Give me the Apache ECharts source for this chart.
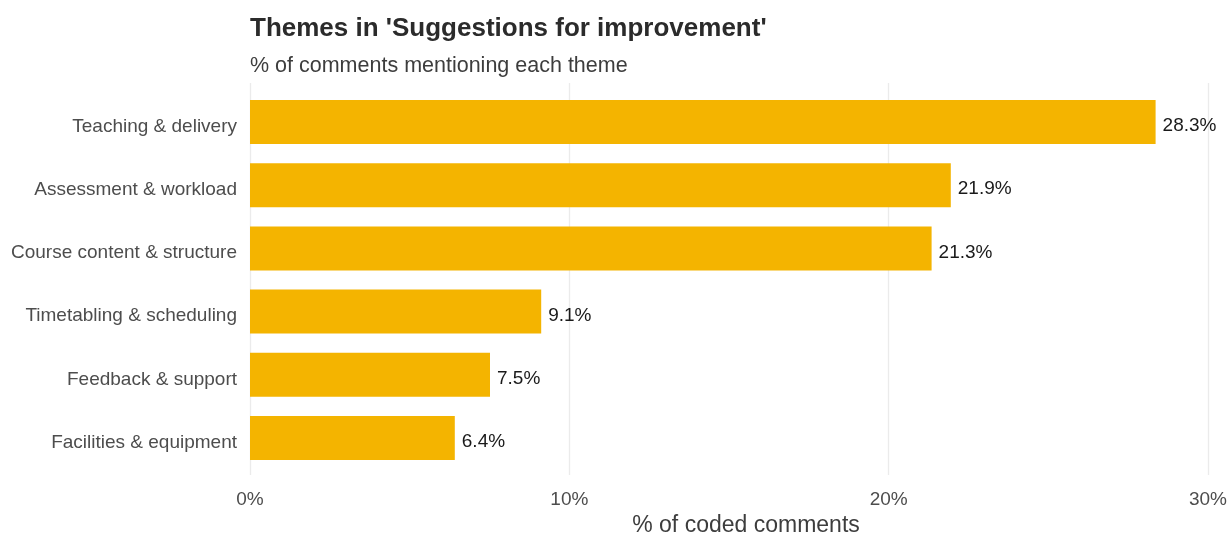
<!DOCTYPE html>
<html>
<head>
<meta charset="utf-8">
<script src="https://cdn.jsdelivr.net/npm/echarts@6/dist/echarts.min.js"></script>
<style>
  html, body { margin: 0; padding: 0; background: #ffffff; }
  #chart { width: 1230px; height: 533px; }
</style>
</head>
<body>
<div id="chart"></div>
<script>
// Themes raised in the "Suggestions for improvement" free-text comments
const themes = [
  'Teaching & delivery',
  'Assessment & workload',
  'Course content & structure',
  'Timetabling & scheduling',
  'Feedback & support',
  'Facilities & equipment'
];
// Share of coded comments mentioning each theme (%)
const shares = [28.3, 21.9, 21.3, 9.1, 7.5, 6.4];
// Tick values on the percentage axis
const xTicks = [0, 10, 20, 30];

const FONT = '"Liberation Sans", Arial, sans-serif';
const chart = echarts.init(document.getElementById('chart'), null, { renderer: 'canvas' });

const xMin = xTicks[0];
const xMax = xTicks[xTicks.length - 1];
const xStep = xTicks[1] - xTicks[0];

chart.setOption({
  animation: false,
  backgroundColor: '#ffffff',
  textStyle: { fontFamily: FONT },
  title: [
    {
      text: "Themes in 'Suggestions for improvement'",
      left: 250, top: 16, padding: 0,
      textStyle: { fontFamily: FONT, fontSize: 26, fontWeight: 'bold', color: '#2b2b2b' }
    },
    {
      text: '% of comments mentioning each theme',
      left: 250, top: 55, padding: 0,
      textStyle: { fontFamily: FONT, fontSize: 21.5, fontWeight: 'normal', color: '#3d3d3d' }
    },
    {
      text: '% of coded comments',
      left: 746, top: 514, padding: 0, textAlign: 'center',
      textStyle: { fontFamily: FONT, fontSize: 23, fontWeight: 'normal', color: '#3d3d3d' }
    }
  ],
  grid: [
    // panel that carries the vertical gridlines and the percentage ticks
    { left: 250, right: 20, top: 83, height: 392, containLabel: false },
    // bars sit inside the panel with half-a-band padding top and bottom
    { left: 250, right: 20, top: 90.4, height: 379.2, containLabel: false }
  ],
  xAxis: [
    {
      gridIndex: 0, type: 'value', min: xMin, max: xMax, interval: xStep,
      axisLine: { show: false }, axisTick: { show: false },
      axisLabel: { margin: 15, fontSize: 19, color: '#4d4d4d', fontFamily: FONT,
                   formatter: v => v + '%' },
      splitLine: { show: true, lineStyle: { color: '#ebebeb', width: 1.3 } }
    },
    { gridIndex: 1, type: 'value', min: xMin, max: xMax, show: false }
  ],
  yAxis: [
    { gridIndex: 0, type: 'value', min: 0, max: 1, show: false },
    {
      gridIndex: 1, type: 'category', data: themes, inverse: true,
      axisLine: { show: false }, axisTick: { show: false },
      splitLine: { show: false },
      axisLabel: {
        margin: 13,
        formatter: v => '{t|' + v + '}',
        rich: { t: { fontSize: 19, color: '#4d4d4d', fontFamily: FONT, padding: [9, 0, 0, 0] } }
      }
    }
  ],
  series: [
    {
      type: 'bar',
      xAxisIndex: 1, yAxisIndex: 1,
      data: shares,
      barWidth: 44,
      itemStyle: { color: '#f4b400' },
      label: {
        show: true, position: 'right', distance: 7, offset: [0, 4],
        fontSize: 19, color: '#1a1a1a', fontFamily: FONT,
        formatter: p => p.value.toFixed(1) + '%'
      }
    }
  ]
});
</script>
</body>
</html>
